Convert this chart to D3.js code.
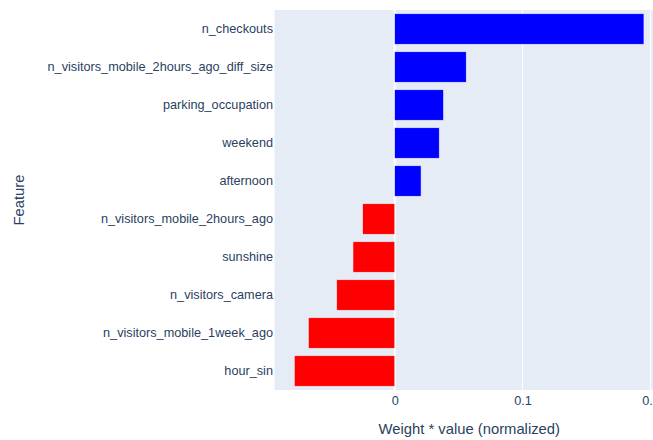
<!DOCTYPE html>
<html>
<head>
<meta charset="utf-8">
<script src="https://cdn.jsdelivr.net/npm/d3@7"></script>
<style>
  html, body { margin: 0; padding: 0; background: #fff; }
  svg { display: block; }
  text { font-family: "Liberation Sans", Arial, sans-serif; fill: #2a3f5f; }
</style>
</head>
<body>
<svg id="chart" width="653" height="440"></svg>
<script>
// Feature contributions (weight * value, normalized), top to bottom
const features = [
  "n_checkouts",
  "n_visitors_mobile_2hours_ago_diff_size",
  "parking_occupation",
  "weekend",
  "afternoon",
  "n_visitors_mobile_2hours_ago",
  "sunshine",
  "n_visitors_camera",
  "n_visitors_mobile_1week_ago",
  "hour_sin"
];
const contributions = [0.1949, 0.0559, 0.0381, 0.0348, 0.0206, -0.0250, -0.0326, -0.0453, -0.0674, -0.0784];
const xTicks = [0, 0.1, 0.2];
const xTickLabels = ["0", "0.1", "0.2"];

const svg = d3.select("#chart");
const plot = { left: 274.5, right: 664, top: 10, bottom: 390 };
const tickFont = 12.7;
const titleFont = 14.8;

const x = d3.scaleLinear().domain([-0.094, 0.2106]).range([plot.left, plot.right]);
const y = d3.scaleBand().domain(features).range([plot.top, plot.bottom]).paddingInner(0.2).paddingOuter(0.1);

// plot background
svg.append("rect")
  .attr("x", plot.left).attr("y", plot.top)
  .attr("width", plot.right - plot.left).attr("height", plot.bottom - plot.top)
  .attr("fill", "#E5ECF6");

// vertical gridlines
svg.append("g").selectAll("line").data(xTicks.filter(d => d !== 0)).join("line")
  .attr("x1", d => x(d)).attr("x2", d => x(d))
  .attr("y1", plot.top).attr("y2", plot.bottom)
  .attr("stroke", "#fff").attr("stroke-width", 1);

// zero line
svg.append("line")
  .attr("x1", x(0)).attr("x2", x(0))
  .attr("y1", plot.top).attr("y2", plot.bottom)
  .attr("stroke", "#fff").attr("stroke-width", 2);

// bars
svg.append("g").selectAll("rect").data(features.map((f, i) => ({ f, v: contributions[i] }))).join("rect")
  .attr("x", d => x(Math.min(0, d.v)))
  .attr("width", d => Math.abs(x(d.v) - x(0)))
  .attr("y", d => y(d.f))
  .attr("height", y.bandwidth())
  .attr("fill", d => d.v >= 0 ? "#0000ff" : "#ff0000")
  .attr("stroke", "#E5ECF6").attr("stroke-width", 0.5);

// x axis labels
const xAxis = d3.axisBottom(x).tickValues(xTicks).tickFormat((d, i) => xTickLabels[i]).tickSize(0).tickPadding(6);
const gx = svg.append("g").attr("transform", `translate(0,${plot.bottom})`).call(xAxis);
gx.select(".domain").remove();
gx.selectAll("text").attr("font-size", tickFont).style("font-family", "'Liberation Sans', Arial, sans-serif").attr("fill", "#2a3f5f");

// y axis labels
const yAxis = d3.axisLeft(y).tickSize(0).tickPadding(1);
const gy = svg.append("g").attr("transform", `translate(${plot.left - 0.5},0)`).call(yAxis);
gy.select(".domain").remove();
gy.selectAll("text").attr("font-size", tickFont).style("font-family", "'Liberation Sans', Arial, sans-serif").attr("fill", "#2a3f5f");

// axis titles
svg.append("text")
  .attr("x", (plot.left + plot.right) / 2).attr("y", 434)
  .attr("text-anchor", "middle").attr("font-size", titleFont)
  .text("Weight * value (normalized)");

svg.append("text")
  .attr("transform", `translate(24,${(plot.top + plot.bottom) / 2}) rotate(-90)`)
  .attr("text-anchor", "middle").attr("font-size", titleFont)
  .text("Feature");
</script>
</body>
</html>
